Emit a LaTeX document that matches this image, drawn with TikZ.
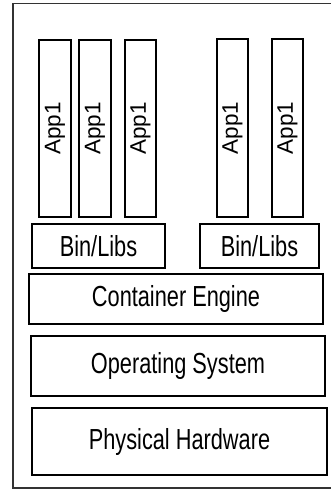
\documentclass[tikz,border=0pt]{standalone}
\usepackage{fontspec}
\setmainfont{Liberation Sans}
\newfontfamily\condfont[FakeStretch=0.75]{Liberation Sans}
\begin{document}
\begin{tikzpicture}[x=1pt,y=-1pt,
  box/.style={draw=black, line width=1.4pt, inner sep=0pt, fill=white},
  appbox/.style={box, rotate=90, font=\fontsize{22.5}{24}\selectfont},
  layer/.style={box, font=\condfont\fontsize{29}{31}\selectfont}]
\useasboundingbox (0,0) rectangle (330,490);
\draw[line width=1.4pt, draw=black!80] (13,3.5) rectangle (345,488);
% apps
\node[appbox, minimum width=177, minimum height=32] (a1) at (55,128.5) {App1};
\node[appbox, minimum width=177, minimum height=32] (a2) at (95,128.5) {App1};
\node[appbox, minimum width=177, minimum height=31] (a3) at (140.5,128.5) {App1};
\node[appbox, minimum width=178, minimum height=31] (a4) at (232.5,128) {App1};
\node[appbox, minimum width=178, minimum height=31] (a5) at (287.5,128) {App1};
% bins
\node[layer, minimum width=133, minimum height=44] (b1) at (98.5,246) {Bin/Libs};
\node[layer, minimum width=119, minimum height=44] (b2) at (259.5,246) {Bin/Libs};
% layers
\node[layer, minimum width=294, minimum height=50] (ce) at (176,299) {Container Engine};
\node[layer, minimum width=294, minimum height=60] (os) at (178,366) {Operating System};
\node[layer, minimum width=295, minimum height=67] (ph) at (179.5,441.5) {Physical Hardware};
\end{tikzpicture}
\end{document}
